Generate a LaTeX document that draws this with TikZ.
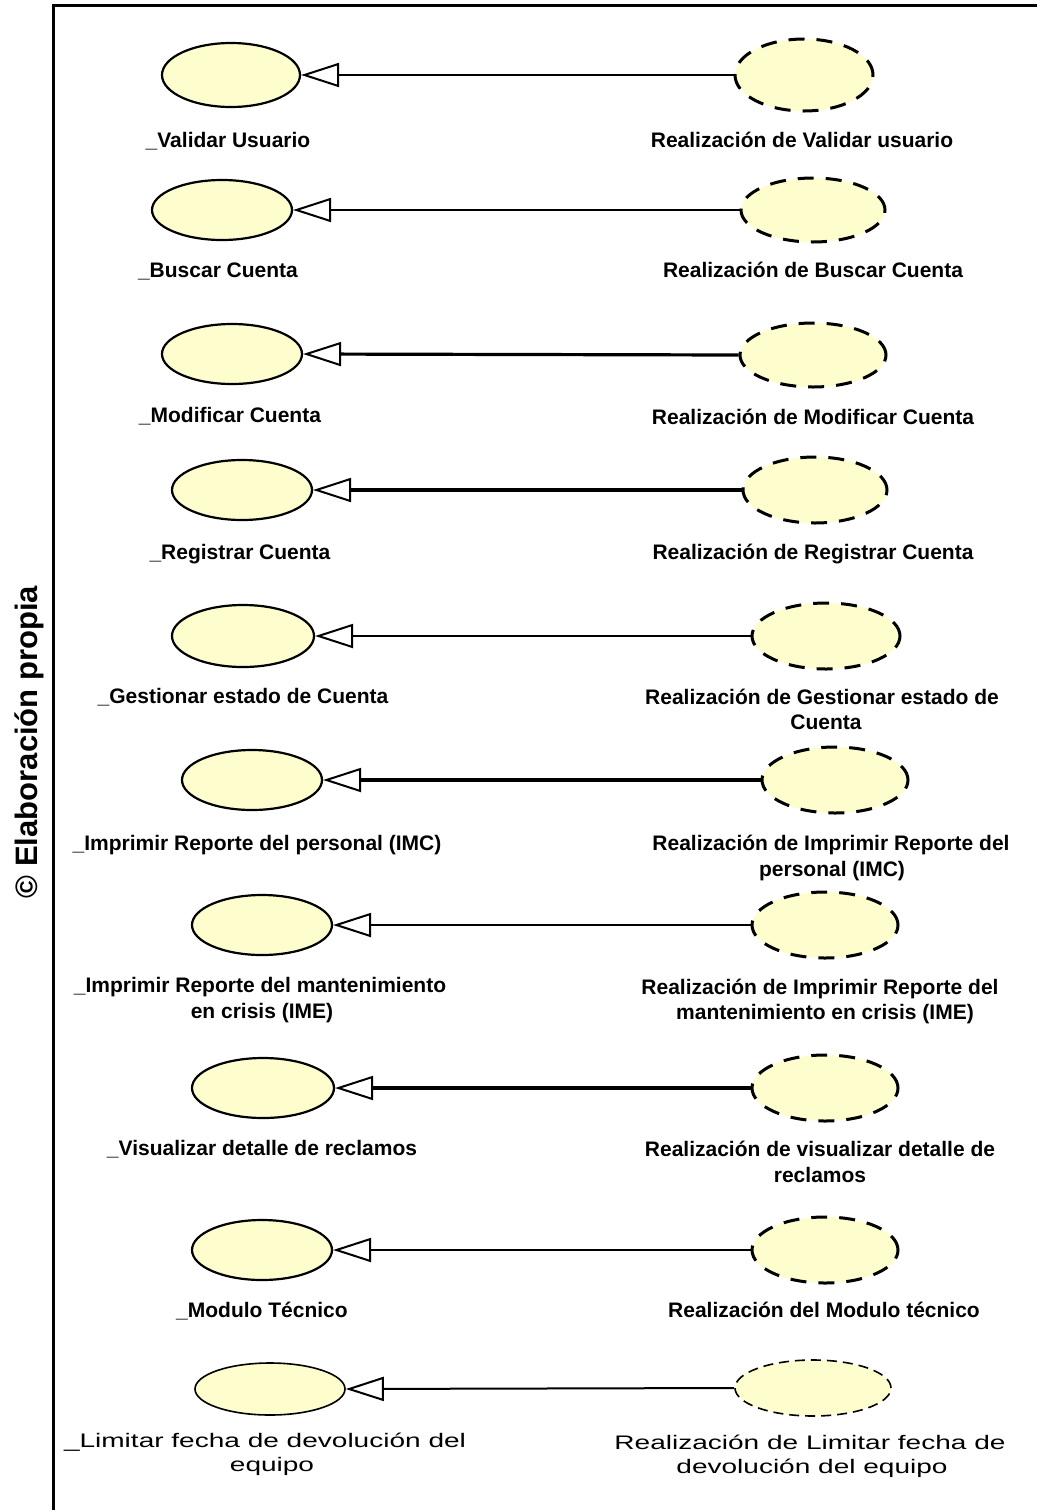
\documentclass[tikz,border=0pt]{standalone}
\usepackage{fontspec}
\setmainfont{Liberation Sans}
\newfontfamily\widefont[FakeStretch=1.43]{Liberation Sans}
\usetikzlibrary{shapes.geometric,arrows.meta}
\definecolor{ucfill}{RGB}{253,253,206}
\tikzset{
  ucase/.style={ellipse, draw=black, line width=1.1pt, fill=ucfill, inner sep=0pt},
  realz/.style={ellipse, draw=black, line width=1.5pt, dash pattern=on 8pt off 6pt, fill=ucfill, inner sep=0pt},
  realzthin/.style={ellipse, draw=black, line width=0.8pt, dash pattern=on 5pt off 3pt, fill=ucfill, inner sep=0pt},
  genlink/.style={-{Triangle[open,length=19pt,width=12pt,line width=1pt]}},
  lbl/.style={font=\bfseries\fontsize{10.5pt}{12.5pt}\selectfont, text height=7.5pt, text depth=0pt, inner sep=0pt},
  lblw/.style={font=\widefont\fontsize{9.8pt}{12pt}\selectfont, text height=7pt, text depth=0pt, inner sep=0pt},
}
\begin{document}
\begin{tikzpicture}[x=0.5pt,y=-0.5pt]
\useasboundingbox (0,0) rectangle (1037,1510);
% frame
\draw[line width=1.5pt] (53,1510) -- (53,5) -- (1037,5);
% side caption
\node[rotate=90, font=\bfseries\fontsize{15.5pt}{18pt}\selectfont, inner sep=0pt] (cap) at (29,742) {© Elaboración propia};
% rows
\foreach \i/\lx/\ly/\lw/\lh/\rx/\ry/\rw/\rh/\cw in {
  1/231/75/69/32/804/75/69/36/1.0,
  2/222/210/70/30/813/210/72/32/1.0,
  3/232/354/70/30/813/355/73/32/1.6,
  4/242/490/70/30/815/490/72/33/1.6,
  5/243/636/71/31/826/636/74/33/1.0,
  6/252/780/70/30/835/780/73/33/1.6,
  7/262/925/70/30/825/925/73/33/1.3,
  8/263/1088/71/30/825/1088/73/33/1.6,
  9/262/1250/70/30/825/1250/73/33/1.3}
{
  \node[ucase, minimum width=\lw pt, minimum height=\lh pt] (L\i) at (\lx,\ly) {};
  \node[realz, minimum width=\rw pt, minimum height=\rh pt] (R\i) at (\rx,\ry) {};
  \draw[genlink, line width=\cw pt] (R\i.west) -- (L\i.east);
}
\node[ucase, line width=0.8pt, minimum width=75pt, minimum height=26pt] (L10) at (270,1389) {};
\node[realzthin, minimum width=78pt, minimum height=28pt] (R10) at (813,1388) {};
\draw[genlink, line width=1.0pt] (R10.west) -- (L10.east);
% labels
\node[lbl] (ll1) at (228,140) {\_Validar Usuario};
\node[lbl] (rl1) at (802,140) {Realización de Validar usuario};
\node[lbl] (ll2) at (218,270) {\_Buscar Cuenta};
\node[lbl] (rl2) at (813,270) {Realización de Buscar Cuenta};
\node[lbl] (ll3) at (230,415) {\_Modificar Cuenta};
\node[lbl] (rl3) at (813,417) {Realización de Modificar Cuenta};
\node[lbl] (ll4) at (240,552) {\_Registrar Cuenta};
\node[lbl] (rl4) at (813,552) {Realización de Registrar Cuenta};
\node[lbl] (ll5) at (243,696) {\_Gestionar estado de Cuenta};
\node[lbl] (rl5a) at (822,697) {Realización de Gestionar estado de};
\node[lbl] (rl5b) at (826,722) {Cuenta};
\node[lbl] (ll6) at (257,843) {\_Imprimir Reporte del personal (IMC)};
\node[lbl] (rl6a) at (831,843) {Realización de Imprimir Reporte del};
\node[lbl] (rl6b) at (832,869) {personal (IMC)};
\node[lbl] (ll7a) at (260,985) {\_Imprimir Reporte del mantenimiento};
\node[lbl] (ll7b) at (262,1011) {en crisis (IME)};
\node[lbl] (rl7a) at (820,987) {Realización de Imprimir Reporte del};
\node[lbl] (rl7b) at (825,1012) {mantenimiento en crisis (IME)};
\node[lbl] (ll8) at (262,1148) {\_Visualizar detalle de reclamos};
\node[lbl] (rl8a) at (820,1149) {Realización de visualizar detalle de};
\node[lbl] (rl8b) at (820,1175) {reclamos};
\node[lbl] (ll9) at (262,1310) {\_Modulo Técnico};
\node[lbl] (rl9) at (824,1310) {Realización del Modulo técnico};
\node[lblw] (ll10a) at (265,1440) {\_Limitar fecha de devolución del};
\node[lblw] (ll10b) at (272,1464) {equipo};
\node[lblw] (rl10a) at (810,1442) {Realización de Limitar fecha de};
\node[lblw] (rl10b) at (812,1466) {devolución del equipo};
\end{tikzpicture}
\end{document}
